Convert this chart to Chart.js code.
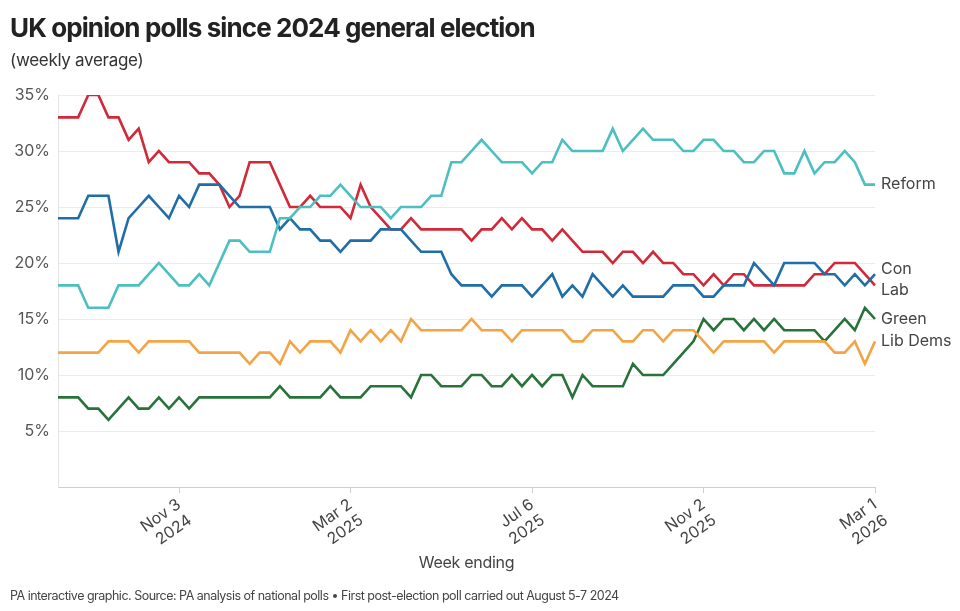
<!DOCTYPE html>
<html>
<head>
<meta charset="utf-8">
<script src="https://cdn.jsdelivr.net/npm/chart.js@4.4.1/dist/chart.umd.min.js"></script>
<style>
  html, body { margin: 0; padding: 0; background: #fff; }
  body { width: 960px; height: 611px; position: relative; overflow: hidden; font-family: Inter, "Noto Sans", sans-serif; color: #222; }
  #wrap { position: absolute; left: 0; top: 0; width: 960px; height: 611px; }
  .title { position: absolute; left: 10px; top: 12px; font-size: 26px; font-weight: 700; letter-spacing: -0.9px; color: #222; }
  .sub { position: absolute; left: 10px; top: 50px; font-size: 17px; color: #333; letter-spacing: -0.3px; }
  .xtitle { position: absolute; left: 0; width: 933px; text-align: center; top: 552px; font-size: 16px; color: #444; letter-spacing: -0.3px; }
  .foot { position: absolute; left: 10px; top: 588px; font-size: 12.5px; color: #444; letter-spacing: -0.5px; }
</style>
</head>
<body>
<div id="wrap"><canvas id="myChart" width="960" height="611"></canvas></div>
<div class="title">UK opinion polls since 2024 general election</div>
<div class="sub">(weekly average)</div>
<div class="xtitle">Week ending</div>
<div class="foot">PA interactive graphic. Source: PA analysis of national polls • First post-election poll carried out August 5-7 2024</div>
<script>
  // first week ending after the first post-election poll
  var firstWeek = '2024-08-11'
  var weekCount = 82

  // tick labels shown on the x axis (index into weeks)
  var tickIndex = [12, 29, 47, 64, 81]
  var tickText = [['Nov 3', '2024'], ['Mar 2', '2025'], ['Jul 6', '2025'], ['Nov 2', '2025'], ['Mar 1', '2026']]

  var reform = [18, 18, 18, 16, 16, 16, 18, 18, 18, 19, 20, 19, 18, 18, 19, 18, 20, 22, 22, 21,
    21, 21, 24, 24, 25, 25, 26, 26, 27, 26, 25, 25, 25, 24, 25, 25, 25, 26, 26, 29,
    29, 30, 31, 30, 29, 29, 29, 28, 29, 29, 31, 30, 30, 30, 30, 32, 30, 31, 32, 31,
    31, 31, 30, 30, 31, 31, 30, 30, 29, 29, 30, 30, 28, 28, 30, 28, 29, 29, 30, 29,
    27, 27]
  var con = [24, 24, 24, 26, 26, 26, 21, 24, 25, 26, 25, 24, 26, 25, 27, 27, 27, 26, 25, 25,
    25, 25, 23, 24, 23, 23, 22, 22, 21, 22, 22, 22, 23, 23, 23, 22, 21, 21, 21, 19,
    18, 18, 18, 17, 18, 18, 18, 17, 18, 19, 17, 18, 17, 19, 18, 17, 18, 17, 17, 17,
    17, 18, 18, 18, 17, 17, 18, 18, 18, 20, 19, 18, 20, 20, 20, 20, 19, 19, 18, 19,
    18, 19]
  var lab = [33, 33, 33, 35, 35, 33, 33, 31, 32, 29, 30, 29, 29, 29, 28, 28, 27, 25, 26, 29,
    29, 29, 27, 25, 25, 26, 25, 25, 25, 24, 27, 25, 24, 23, 23, 24, 23, 23, 23, 23,
    23, 22, 23, 23, 24, 23, 24, 23, 23, 22, 23, 22, 21, 21, 21, 20, 21, 21, 20, 21,
    20, 20, 19, 19, 18, 19, 18, 19, 19, 18, 18, 18, 18, 18, 18, 19, 19, 20, 20, 20,
    19, 18]
  var green = [8, 8, 8, 7, 7, 6, 7, 8, 7, 7, 8, 7, 8, 7, 8, 8, 8, 8, 8, 8,
    8, 8, 9, 8, 8, 8, 8, 9, 8, 8, 8, 9, 9, 9, 9, 8, 10, 10, 9, 9,
    9, 10, 10, 9, 9, 10, 9, 10, 9, 10, 10, 8, 10, 9, 9, 9, 9, 11, 10, 10,
    10, 11, 12, 13, 15, 14, 15, 15, 14, 15, 14, 15, 14, 14, 14, 14, 13, 14, 15, 14,
    16, 15]
  var libDems = [12, 12, 12, 12, 12, 13, 13, 13, 12, 13, 13, 13, 13, 13, 12, 12, 12, 12, 12, 11,
    12, 12, 11, 13, 12, 13, 13, 13, 12, 14, 13, 14, 13, 14, 13, 15, 14, 14, 14, 14,
    14, 15, 14, 14, 14, 13, 14, 14, 14, 14, 14, 13, 13, 14, 14, 14, 13, 13, 14, 14,
    13, 14, 14, 14, 13, 12, 13, 13, 13, 13, 13, 12, 13, 13, 13, 13, 13, 12, 12, 13,
    11, 13]

  var weeks = []
  var d = new Date(firstWeek + 'T12:00:00Z')
  for (var i = 0; i < weekCount; i++) {
    weeks.push(d.toISOString().slice(0, 10))
    d = new Date(d.getTime() + 7 * 86400000)
  }

  // end labels, nudged where lines meet
  var endLabelShift = { Con: -5, Lab: 5 }

  var endLabels = {
    id: 'endLabels',
    afterDatasetsDraw: function (chart) {
      var c = chart.ctx
      c.save()
      c.font = '16px Inter, "Noto Sans", sans-serif'
      c.fillStyle = '#444'
      c.textBaseline = 'middle'
      c.textAlign = 'left'
      chart.data.datasets.forEach(function (ds, k) {
        var meta = chart.getDatasetMeta(k)
        var pt = meta.data[meta.data.length - 1]
        c.fillText(ds.label, chart.chartArea.right + 6, pt.y + (endLabelShift[ds.label] || 0))
      })
      c.restore()
    }
  }

  function line(label, data, color) {
    return {
      label: label,
      data: data,
      borderColor: color,
      backgroundColor: color,
      borderWidth: 2.6,
      pointRadius: 0,
      tension: 0,
      fill: false
    }
  }

  var ctx = document.getElementById('myChart')
  var myChart = new Chart(ctx, {
    type: 'line',
    data: {
      labels: weeks,
      datasets: [
        line('Reform', reform, '#4cbfc0'),
        line('Lib Dems', libDems, '#f3a445'),
        line('Green', green, '#28733a'),
        line('Con', con, '#1f6ea8'),
        line('Lab', lab, '#d1293a')
      ]
    },
    plugins: [endLabels],
    options: {
      responsive: false,
      animation: false,
      layout: { padding: { top: 95, right: 85, left: 0, bottom: 0 } },
      plugins: {
        legend: { display: false },
        title: { display: false },
        tooltip: { enabled: false }
      },
      scales: {
        x: {
          afterFit: function (scale) { scale.height = 124 },
          afterBuildTicks: function (scale) {
            scale.ticks = scale.ticks.filter(function (t) { return tickIndex.indexOf(t.value) >= 0 })
          },
          grid: { drawOnChartArea: false, color: '#cfcfcf', tickLength: 6 },
          border: { color: '#cfcfcf' },
          ticks: {
            autoSkip: false,
            minRotation: 35,
            maxRotation: 35,
            padding: 2,
            color: '#444',
            font: { family: 'Inter', size: 16 },
            callback: function (v) {
              var k = tickIndex.indexOf(v)
              return k >= 0 ? tickText[k] : ''
            }
          }
        },
        y: {
          min: 0,
          max: 35,
          afterFit: function (scale) { scale.width = 58 },
          grid: { color: '#ececec', drawTicks: false },
          border: { color: '#e4e4e4' },
          ticks: {
            stepSize: 5,
            padding: 8,
            color: '#555',
            font: { family: 'Inter', size: 16 },
            callback: function (v) { return v === 0 ? '' : v + '%' }
          }
        }
      }
    }
  })
</script>
</body>
</html>
